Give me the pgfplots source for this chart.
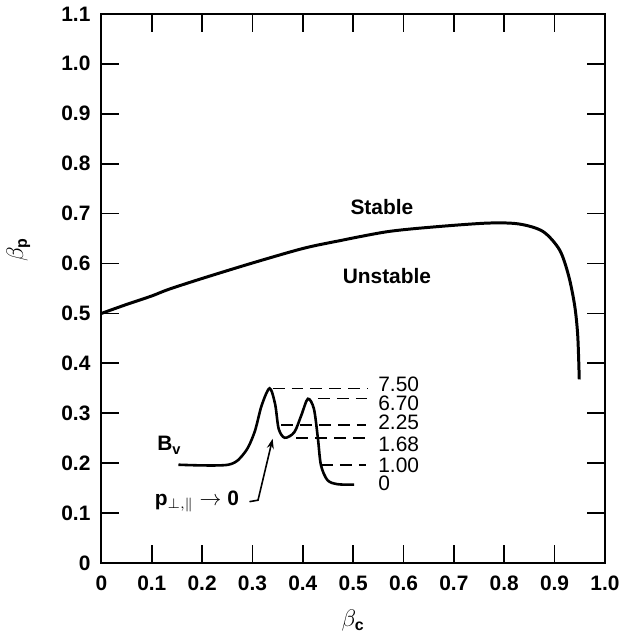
\documentclass[border=0pt]{standalone}
\usepackage{fontspec}
\setmainfont{Liberation Sans}
\usepackage{pgfplots}
\pgfplotsset{compat=1.18}
\usetikzlibrary{arrows.meta}

\begin{document}
\begin{tikzpicture}
\begin{axis}[
  scale only axis, width=253pt, height=276pt,
  xmin=0, xmax=1, ymin=0, ymax=1.1,
  xtick={0,0.1,0.2,0.3,0.4,0.5,0.6,0.7,0.8,0.9,1.0},
  xticklabels={0,0.1,0.2,0.3,0.4,0.5,0.6,0.7,0.8,0.9,1.0},
  ytick={0,0.1,0.2,0.3,0.4,0.5,0.6,0.7,0.8,0.9,1.0,1.1},
  yticklabels={0,0.1,0.2,0.3,0.4,0.5,0.6,0.7,0.8,0.9,1.0,1.1},
  tick align=inside, major tick length=9pt,
  axis line style={line width=1pt},
  tick style={line width=0.9pt, black},
  tick label style={font=\fontsize{10.5}{12}\selectfont\bfseries},
  xticklabel style={yshift=-3pt},
  yticklabel style={xshift=-2pt},
  xlabel={$\beta_{\mbox{\bfseries\footnotesize c}}$},
  ylabel={$\beta_{\mbox{\bfseries\footnotesize p}}$},
  label style={font=\fontsize{11.5}{13}\selectfont},
  xlabel style={at={(axis description cs:0.5,-0.105)}, anchor=center},
  ylabel style={at={(axis description cs:-0.165,0.57)}, anchor=center},
  clip=false,
]
% stability boundary
\addplot[line width=1.5pt, smooth, tension=0.5] coordinates {
  (0,0.50) (0.05,0.518) (0.10,0.535) (0.133,0.548) (0.20,0.570)
  (0.30,0.601) (0.40,0.630) (0.47,0.645) (0.57,0.664) (0.67,0.674)
  (0.77,0.681) (0.83,0.679) (0.877,0.664) (0.91,0.627) (0.928,0.575)
  (0.940,0.515) (0.946,0.455) (0.949,0.368)
};
% B_v profile (inset)
\addplot[line width=1.3pt, smooth, tension=0.5] coordinates {
  (0.153,0.197) (0.252,0.197) (0.285,0.222) (0.304,0.262) (0.318,0.315)
  (0.334,0.350) (0.345,0.318) (0.352,0.269) (0.364,0.251) (0.383,0.262)
  (0.397,0.296) (0.410,0.329) (0.422,0.309) (0.430,0.249) (0.436,0.196)
  (0.449,0.166) (0.469,0.158) (0.502,0.157)
};
% dashed leaders
\addplot[line width=0.8pt, dash pattern=on 6pt off 3.5pt] coordinates {(0.340,0.350) (0.528,0.350)};
\addplot[line width=0.8pt, dash pattern=on 6pt off 3.5pt] coordinates {(0.430,0.330) (0.528,0.330)};
\addplot[line width=0.8pt, dash pattern=on 6pt off 3.5pt] coordinates {(0.357,0.276) (0.525,0.276)};
\addplot[line width=0.8pt, dash pattern=on 6pt off 3.5pt] coordinates {(0.387,0.250) (0.525,0.250)};
\addplot[line width=0.8pt, dash pattern=on 6pt off 3.5pt] coordinates {(0.436,0.197) (0.525,0.197)};

\begin{scope}[font=\fontsize{10.5}{12}\selectfont]
\node[anchor=west] at (axis cs:0.536,0.359) {7.50};
\node[anchor=west] at (axis cs:0.536,0.319) {6.70};
\node[anchor=west] at (axis cs:0.536,0.282) {2.25};
\node[anchor=west] at (axis cs:0.536,0.237) {1.68};
\node[anchor=west] at (axis cs:0.536,0.196) {1.00};
\node[anchor=west] at (axis cs:0.536,0.159) {0};
\end{scope}

\node[font=\fontsize{10.5}{12}\selectfont\bfseries] at (axis cs:0.135,0.236) {B\textsubscript{v}};
\node[font=\fontsize{10.5}{12}\selectfont\bfseries, anchor=east] at (axis cs:0.287,0.124)
  {p$_{\perp,\parallel}$ $\rightarrow$ 0};
\draw[line width=0.8pt, -{Stealth[length=5pt,width=3.5pt]}]
  (axis cs:0.294,0.123) -- (axis cs:0.311,0.126) -- (axis cs:0.340,0.249);

\node[font=\fontsize{10.5}{12}\selectfont\bfseries] at (axis cs:0.557,0.713) {Stable};
\node[font=\fontsize{10.5}{12}\selectfont\bfseries] at (axis cs:0.567,0.574) {Unstable};
\end{axis}
\end{tikzpicture}
\end{document}
